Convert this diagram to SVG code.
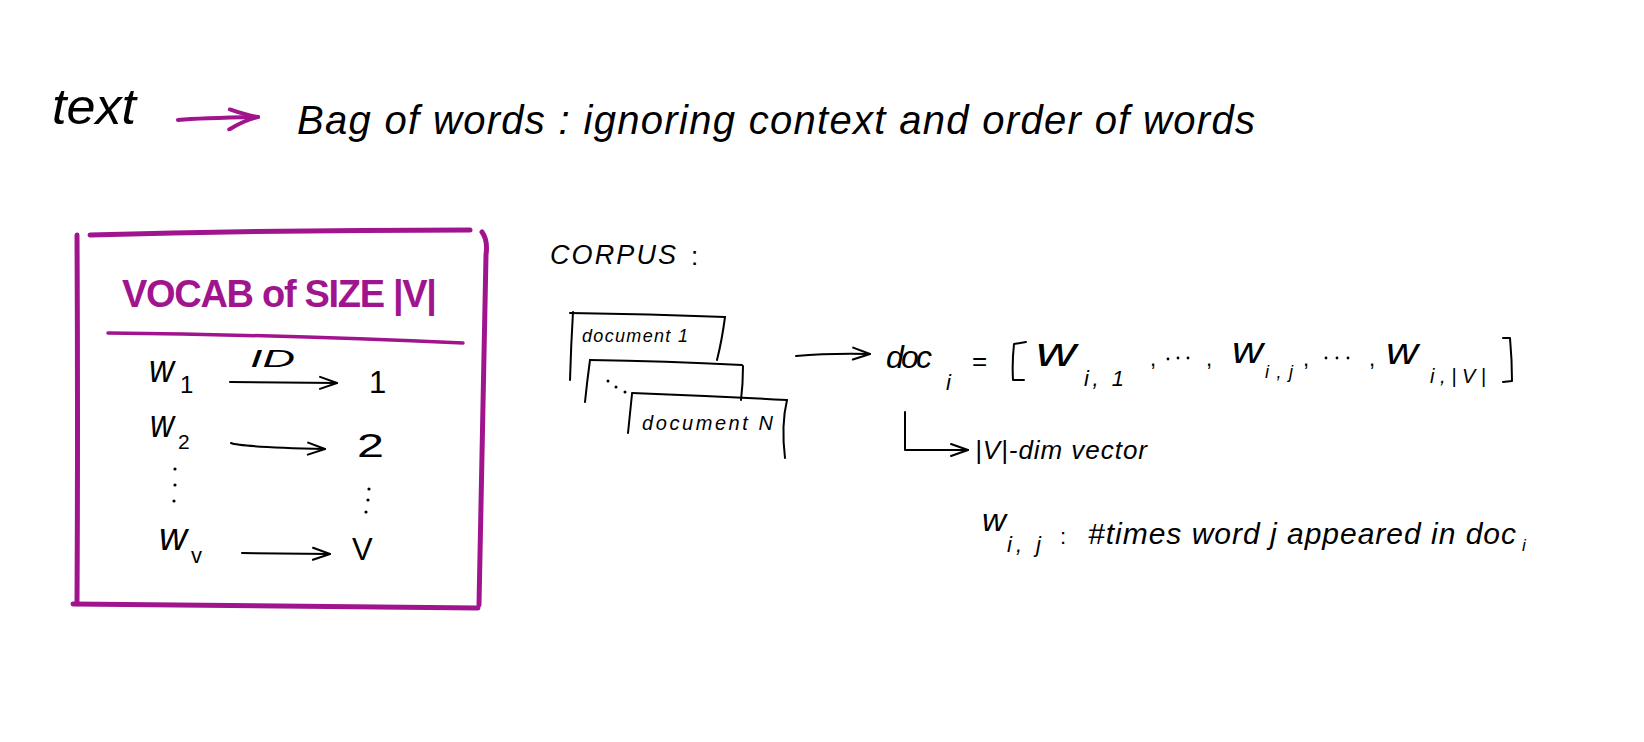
<svg xmlns="http://www.w3.org/2000/svg" width="1644" height="742" viewBox="0 0 1644 742">
<defs>
<marker id="ah" viewBox="0 0 20 16" refX="19" refY="8" markerWidth="20" markerHeight="16" markerUnits="userSpaceOnUse" orient="auto">
<path d="M2,2 L19,8 L2,14" fill="none" stroke="#000" stroke-width="2" stroke-linecap="round" stroke-linejoin="round"/>
</marker>
<marker id="ahm" viewBox="0 0 34 26" refX="32" refY="12" markerWidth="34" markerHeight="26" markerUnits="userSpaceOnUse" orient="auto">
<path d="M4,4 Q20,10 32,12 Q18,15 3,24" fill="none" stroke="#a0158e" stroke-width="4" stroke-linecap="round" stroke-linejoin="round"/>
</marker>
</defs>
<style>
.t{font-family:"Liberation Sans","DejaVu Sans",sans-serif;fill:#000;}
.i{font-style:italic;}
.m{font-family:"Liberation Sans","DejaVu Sans",sans-serif;fill:#a0158e;font-weight:bold;}
.ln{fill:none;stroke:#000;stroke-width:2;stroke-linecap:round;stroke-linejoin:round;}
.mb{fill:none;stroke:#a0158e;stroke-width:5;stroke-linecap:round;stroke-linejoin:round;}
</style>
<rect width="1644" height="742" fill="#fff"/>

<g id="header">
<text class="t i" x="52" y="124" font-size="50" textLength="84" lengthAdjust="spacingAndGlyphs">text</text>
<text class="t i" x="297" y="134" font-size="40" textLength="958">Bag of words : ignoring context and order of words</text>
</g>

<g id="vocab">
<path class="mb" d="M77,235 Q78,420 77,603"/>
<path class="mb" d="M90,235 Q280,230 470,230"/>
<path class="mb" d="M482,232 Q488,240 486,255 Q482,430 479,605"/>
<path class="mb" d="M73,604 Q280,606 478,608"/>
<path fill="none" stroke="#a0158e" stroke-width="3.5" stroke-linecap="round" d="M108,333 Q290,335 463,343"/>
<text class="m" x="122" y="307" font-size="38" textLength="315">VOCAB of SIZE |V|</text>
<text class="t i" x="149" y="382" font-size="38" textLength="25" lengthAdjust="spacingAndGlyphs">w</text>
<text class="t" x="180" y="393" font-size="24">1</text>
<text class="t i" x="250" y="367" font-size="24" textLength="45" lengthAdjust="spacingAndGlyphs">ID</text>
<text class="t" x="369" y="393" font-size="31">1</text>
<text class="t i" x="150" y="437" font-size="38" textLength="24" lengthAdjust="spacingAndGlyphs">w</text>
<text class="t" x="178" y="449" font-size="21">2</text>
<text class="t" x="357" y="457" font-size="34" textLength="27" lengthAdjust="spacingAndGlyphs">2</text>
<text class="t i" x="159" y="550" font-size="38" textLength="28" lengthAdjust="spacingAndGlyphs">w</text>
<text class="t" x="191" y="563" font-size="22">v</text>
<text class="t" x="352" y="560" font-size="31">V</text>
<g fill="#000">
<circle cx="175" cy="469" r="1.6"/><circle cx="175" cy="485" r="1.6"/><circle cx="174" cy="501" r="1.6"/>
<circle cx="369" cy="489" r="1.6"/><circle cx="368" cy="500" r="1.6"/><circle cx="366" cy="512" r="1.6"/>
</g>
</g>

<g id="corpus">
<text class="t i" x="550" y="264" font-size="27" textLength="126">CORPUS</text>
<text class="t" x="691" y="265" font-size="26">:</text>
<path class="ln" d="M570,313 Q650,314 725,317"/>
<path class="ln" d="M573,312 Q571,345 570,380"/>
<path class="ln" d="M725,317 Q722,340 717,360"/>
<text class="t i" x="582" y="342" font-size="18" textLength="106">document 1</text>
<path class="ln" d="M590,360 Q665,361 742,365"/>
<path class="ln" d="M590,360 Q587,382 585,402"/>
<path class="ln" d="M743,366 Q743,384 741,400"/>
<g fill="#000"><circle cx="608" cy="381" r="1.5"/><circle cx="616" cy="387" r="1.5"/><circle cx="625" cy="392" r="1.5"/></g>
<path class="ln" d="M632,393 Q710,396 787,400"/>
<path class="ln" d="M632,394 Q630,414 628,433"/>
<path class="ln" d="M787,400 Q781,425 785,458"/>
<text class="t i" x="642" y="430" font-size="20" textLength="131">document N</text>
</g>

<g id="docvector">
<text class="t i" x="886" y="368" font-size="32" textLength="46">doc</text>
<text class="t i" x="946" y="390" font-size="22">i</text>
<text class="t" x="972" y="370" font-size="26">=</text>
<path class="ln" d="M1026,342 L1014,344 Q1012,362 1013,380 L1024,380"/>
<text class="t i" x="1036" y="366" font-size="40" textLength="40" lengthAdjust="spacingAndGlyphs">w</text>
<text class="t i" x="1084" y="386" font-size="22" textLength="40">i, 1</text>
<text class="t" x="1150" y="366" font-size="22">,</text>
<g fill="#000"><circle cx="1168" cy="359" r="1.4"/><circle cx="1178" cy="358" r="1.4"/><circle cx="1188" cy="358" r="1.4"/>
<circle cx="1326" cy="358" r="1.4"/><circle cx="1337" cy="358" r="1.4"/><circle cx="1348" cy="358" r="1.4"/></g>
<text class="t" x="1206" y="366" font-size="22">,</text>
<text class="t i" x="1232" y="363" font-size="36" textLength="31" lengthAdjust="spacingAndGlyphs">w</text>
<text class="t i" x="1265" y="378" font-size="18" textLength="28">i,j</text>
<text class="t" x="1303" y="366" font-size="22">,</text>
<text class="t" x="1369" y="366" font-size="22">,</text>
<text class="t i" x="1386" y="364" font-size="36" textLength="32" lengthAdjust="spacingAndGlyphs">w</text>
<text class="t i" x="1430" y="383" font-size="20" textLength="56">i,|V|</text>
<path class="ln" d="M1503,338 L1510,338 Q1512,360 1512,381 L1503,382"/>
<text class="t i" x="975" y="459" font-size="26" textLength="172">|V|-dim vector</text>
</g>

<g id="definition">
<text class="t i" x="982" y="531" font-size="32" textLength="24" lengthAdjust="spacingAndGlyphs">w</text>
<text class="t i" x="1007" y="552" font-size="22" textLength="34">i, j</text>
<text class="t" x="1060" y="544" font-size="22">:</text>
<text class="t i" x="1088" y="544" font-size="30" textLength="428">#times word j appeared in doc</text>
<text class="t i" x="1522" y="551" font-size="17">i</text>
</g>

<g id="connectors">
<path d="M178,120 Q200,118 258,117" fill="none" stroke="#a0158e" stroke-width="4" stroke-linecap="round" marker-end="url(#ahm)"/>
<path class="ln" d="M230,382 L337,383" marker-end="url(#ah)"/>
<path class="ln" d="M231,443 Q240,447 325,449" marker-end="url(#ah)"/>
<path class="ln" d="M242,553 L330,554" marker-end="url(#ah)"/>
<path class="ln" d="M796,356 Q830,353 870,354" marker-end="url(#ah)"/>
<path class="ln" d="M905,412 L905,450 L968,450" marker-end="url(#ah)"/>
</g>
</svg>
